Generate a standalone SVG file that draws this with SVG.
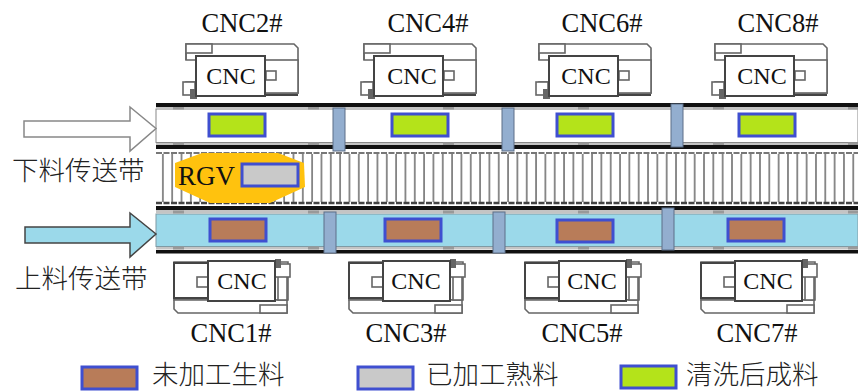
<svg xmlns="http://www.w3.org/2000/svg" width="858" height="391" viewBox="0 0 858 391">
<style>
text{font-family:"Liberation Serif","Noto Sans CJK SC",serif;fill:#111}
.lbl{font-size:26.5px;text-anchor:middle}
.cn{font-size:26.5px;font-family:"Noto Sans CJK SC","Liberation Serif",serif;font-weight:300;fill:#222}
.m{fill:#fff;stroke:#666;stroke-width:1.6}
.md{fill:#fff;stroke:#444;stroke-width:2}
.cnc{font-size:24px;text-anchor:middle}
.item{stroke:#3f4fd0;stroke-width:3}
.rail{fill:#111}
.band{fill:#c4c4c4}
.sep{fill:#93aecf;stroke:#5d6f88;stroke-width:1}
.tabs{stroke:#999;stroke-width:3;fill:none;stroke-dasharray:11 124}
</style>
<defs>
<pattern id="rungs" patternUnits="userSpaceOnUse" x="0.5" y="0" width="9.33" height="10">
<rect x="3" width="1.5" height="10" fill="#6a6a6a"/>
</pattern>
<g id="top">
<path class="m" d="M186 44H294L298 48V93H186V82H196V60H186Z"/>
<rect class="m" x="186" y="44" width="26" height="9"/>
<path class="m" d="M186 53V60"/>
<rect class="m" x="183" y="82" width="12" height="13"/>
<rect x="190" y="89" width="7" height="10" fill="#666"/>
<rect class="m" x="265" y="60" width="33" height="33"/>
<path d="M265 95H298" stroke="#444" stroke-width="2"/>
<rect class="m" x="266" y="71" width="10" height="9"/>
<rect class="md" x="196" y="56" width="69" height="40"/>
</g>
<g id="bot">
<path class="m" d="M174 262H288V300H174Z"/>
<path class="m" d="M174 300H287V313H178L174 309Z"/>
<rect class="md" x="174" y="263" width="34" height="35"/>
<rect class="m" x="197" y="277" width="11" height="10"/>
<rect class="m" x="260" y="305" width="27" height="8"/>
<rect class="m" x="278" y="276" width="9" height="24"/>
<rect class="m" x="275" y="264" width="15" height="13"/>
<rect x="275" y="259" width="6" height="9" fill="#666"/>
<rect class="md" x="208" y="261" width="67" height="40"/>
</g>
</defs>
<rect width="858" height="391" fill="#fff"/>

<g id="belt-top">
<rect x="156" y="109" width="702" height="33.500" fill="#fff" stroke="#888" stroke-width="1"/>
<rect class="band" x="156" y="107" width="702" height="2"/>
<rect class="band" x="156" y="143" width="702" height="2"/>
<path class="tabs" d="M173 108H858M173 144H858"/>
<rect class="rail" x="156" y="103" width="702" height="4"/>
<rect class="rail" x="156" y="145" width="702" height="4"/>
</g>
<g id="belt-mid">
<rect x="156" y="154" width="702" height="48" fill="url(#rungs)"/>
<path d="M156 153H858" stroke="#777" stroke-width="2" stroke-dasharray="6 1.500"/>
<path d="M156 203H858" stroke="#444" stroke-width="2.500" stroke-dasharray="6 1.500"/>
</g>
<g id="belt-bottom">
<rect x="156" y="214" width="702" height="32.500" fill="#9bd9ea" stroke="#7f9aa4" stroke-width="1"/>
<rect class="band" x="156" y="210" width="702" height="3.500"/>
<rect class="band" x="156" y="247" width="702" height="2.500"/>
<path class="tabs" d="M173 212H858M173 248H858"/>
<rect class="rail" x="156" y="206" width="702" height="4"/>
<rect class="rail" x="156" y="250" width="702" height="3.500"/>
</g>
<g id="separators">
<rect class="sep" x="333" y="108" width="12" height="43"/>
<rect class="sep" x="502" y="108" width="12" height="43"/>
<rect class="sep" x="671" y="104" width="12" height="43"/>
<rect class="sep" x="324" y="212" width="12" height="41"/>
<rect class="sep" x="493" y="212" width="12" height="41"/>
<rect class="sep" x="662" y="208" width="12" height="42"/>
</g>
<g id="connectors">
<path d="M24 121H130V107L156 128.500L130 151V137H24Z" fill="#fff" stroke="#888" stroke-width="1.500"/>
<path d="M25 227H130V213L156 234L130 257V243H25Z" fill="#9bd9ea" stroke="#444" stroke-width="1.500"/>
</g>
<g id="items-top">
<rect class="item" x="209" y="114" width="56" height="22" fill="#b4e31a"/>
<rect class="item" x="392" y="114" width="56" height="22" fill="#b4e31a"/>
<rect class="item" x="557" y="114" width="56" height="22" fill="#b4e31a"/>
<rect class="item" x="739" y="114" width="56" height="22" fill="#b4e31a"/>
</g>
<g id="items-bottom">
<rect class="item" x="210" y="219" width="56" height="22" fill="#b87c59"/>
<rect class="item" x="385" y="219" width="56" height="22" fill="#b87c59"/>
<rect class="item" x="557" y="220" width="56" height="22" fill="#b87c59"/>
<rect class="item" x="728" y="219" width="56" height="22" fill="#b87c59"/>
</g>
<g id="rgv">
<path d="M175 163L202 153H278L304 163L305 187L270 203H210L175 187Z" fill="#ffc20e"/>
<text x="178" y="185" font-size="27">RGV</text>
<rect class="item" x="242" y="164" width="56" height="22" fill="#c9c9c9"/>
</g>
<g id="cnc2"><use href="#top"/><text class="cnc" x="231" y="84">CNC</text><text class="lbl" x="242" y="32">CNC2#</text></g>
<g id="cnc4"><use href="#top" x="178"/><text class="cnc" x="412" y="84">CNC</text><text class="lbl" x="428" y="32">CNC4#</text></g>
<g id="cnc6"><use href="#top" x="353"/><text class="cnc" x="586" y="84">CNC</text><text class="lbl" x="602" y="32">CNC6#</text></g>
<g id="cnc8"><use href="#top" x="529"/><text class="cnc" x="762" y="84">CNC</text><text class="lbl" x="778" y="32">CNC8#</text></g>
<g id="cnc1"><use href="#bot"/><text class="cnc" x="242" y="289">CNC</text><text class="lbl" x="231" y="342">CNC1#</text></g>
<g id="cnc3"><use href="#bot" x="175"/><text class="cnc" x="416" y="289">CNC</text><text class="lbl" x="406" y="342">CNC3#</text></g>
<g id="cnc5"><use href="#bot" x="351"/><text class="cnc" x="592" y="289">CNC</text><text class="lbl" x="582" y="342">CNC5#</text></g>
<g id="cnc7"><use href="#bot" x="527"/><text class="cnc" x="768" y="289">CNC</text><text class="lbl" x="757" y="342">CNC7#</text></g>
<g id="belt-labels">
<text class="cn" x="12" y="180">下料传送带</text>
<text class="cn" x="15" y="288">上料传送带</text>
</g>
<g id="legend">
<rect class="item" x="82" y="367" width="55" height="22" fill="#b87c59"/>
<text class="cn" x="152" y="384">未加工生料</text>
<rect class="item" x="358" y="367" width="55" height="22" fill="#c9c9c9"/>
<text class="cn" x="426" y="384">已加工熟料</text>
<rect class="item" x="621" y="366" width="55" height="22" fill="#b4e31a"/>
<text class="cn" x="686" y="384">清洗后成料</text>
</g>
</svg>
